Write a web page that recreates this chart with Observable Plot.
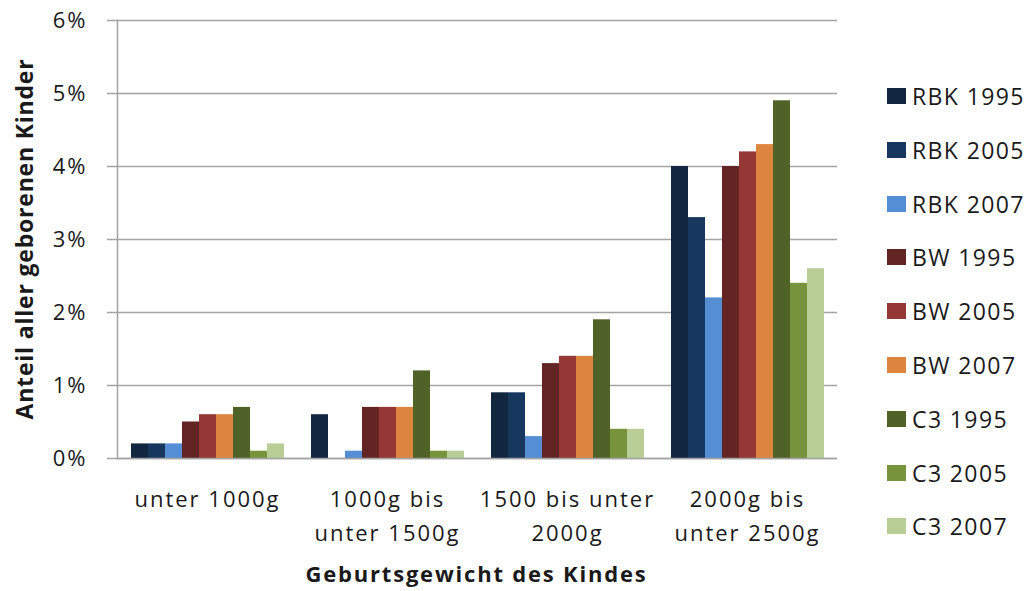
<!DOCTYPE html>
<html><head><meta charset="utf-8">
<script src="https://cdn.jsdelivr.net/npm/d3@7"></script>
<script src="https://cdn.jsdelivr.net/npm/@observablehq/plot@0.6"></script>
<style>
body{margin:0;background:#fff;}
#wrap{position:relative;width:1029px;height:591px;font-family:"Open Sans",sans-serif;color:#1a1a1a;overflow:hidden;}
#wrap svg{position:absolute;left:0;top:0;}
.ytitle{position:absolute;left:24px;top:238.5px;transform:translate(-50%,-50%) rotate(-90deg);white-space:nowrap;font-weight:bold;font-size:23px;letter-spacing:0.8px;line-height:30px;}
.xtitle{position:absolute;left:476.5px;top:558px;transform:translateX(-50%);white-space:nowrap;font-weight:bold;font-size:22px;letter-spacing:1.8px;line-height:30px;}
.leg{position:absolute;left:887px;display:flex;align-items:center;height:16px;}
.leg .sw{width:19px;height:16px;margin-right:6px;}
.leg span{font-size:23px;letter-spacing:1.4px;white-space:nowrap;line-height:30px;}
</style></head>
<body><div id="wrap"></div>
<script>
const groups = ["unter 1000g", "1000g bis\nunter 1500g", "1500 bis unter\n2000g", "2000g bis\nunter 2500g"];
const series = ["RBK 1995", "RBK 2005", "RBK 2007", "BW 1995", "BW 2005", "BW 2007", "C3 1995", "C3 2005", "C3 2007"];
const rbk1995 = [0.2, 0.6, 0.9, 4.0];
const rbk2005 = [0.2, 0.0, 0.9, 3.3];
const rbk2007 = [0.2, 0.1, 0.3, 2.2];
const bw1995 = [0.5, 0.7, 1.3, 4.0];
const bw2005 = [0.6, 0.7, 1.4, 4.2];
const bw2007 = [0.6, 0.7, 1.4, 4.3];
const c31995 = [0.7, 1.2, 1.9, 4.9];
const c32005 = [0.1, 0.1, 0.4, 2.4];
const c32007 = [0.2, 0.1, 0.4, 2.6];
const colors = ["#13263F", "#17375E", "#558ED5", "#632523", "#953735", "#DD843F", "#4F6228", "#77933C", "#B9CE96"];
const yTicks = [0, 1, 2, 3, 4, 5, 6];
const yTitle = "Anteil aller geborenen Kinder";
const xTitle = "Geburtsgewicht des Kindes";

const valueRows = [rbk1995, rbk2005, rbk2007, bw1995, bw2005, bw2007, c31995, c32005, c32007];
const data = series.flatMap((s, i) => groups.map((g, j) => ({group: g, series: s, value: valueRows[i][j]})));

const grid = "#a3a3a3";
const chart = Plot.plot({
  width: 1029, height: 591,
  marginLeft: 115, marginRight: 191, marginTop: 20, marginBottom: 133,
  style: {fontFamily: "Open Sans", fontSize: "22px", color: "#1a1a1a", background: "transparent", letterSpacing: "2px"},
  fx: {domain: groups, padding: 0, label: null},
  x: {domain: series, paddingInner: 0, paddingOuter: 0.733, axis: null},
  y: {domain: [0, 6], label: null},
  color: {domain: series, range: colors},
  marks: [
    Plot.gridY(yTicks, {stroke: grid, strokeOpacity: 1, strokeWidth: 1.5}),
    Plot.frame({anchor: "left", facetAnchor: "left", stroke: grid, strokeWidth: 1.5}),
    Plot.barY(data, {fx: "group", x: "series", y: "value", fill: "series"}),
    Plot.ruleY([0], {stroke: grid, strokeWidth: 1.5}),
    Plot.axisY(yTicks, {tickSize: 10, tickPadding: 20, tickFormat: d => d + "%", stroke: grid, strokeWidth: 1.5, strokeOpacity: 1, fontSize: 22, label: null}),
    Plot.axisFx({anchor: "bottom", tickSize: 0, tickPadding: 24, lineHeight: 1.55, fontSize: 22, label: null})
  ]
});
const wrap = document.getElementById("wrap");
wrap.appendChild(chart);

const yt = document.createElement("div"); yt.className = "ytitle"; yt.textContent = yTitle; wrap.appendChild(yt);
const xt = document.createElement("div"); xt.className = "xtitle"; xt.textContent = xTitle; wrap.appendChild(xt);

const color = chart.scale("color");
series.forEach((s, i) => {
  const item = document.createElement("div");
  item.className = "leg";
  item.style.top = (88 + 53.8 * i) + "px";
  const sw = document.createElement("div"); sw.className = "sw"; sw.style.background = color.apply(s);
  const lab = document.createElement("span"); lab.textContent = s;
  item.appendChild(sw); item.appendChild(lab);
  wrap.appendChild(item);
});
</script></body></html>
